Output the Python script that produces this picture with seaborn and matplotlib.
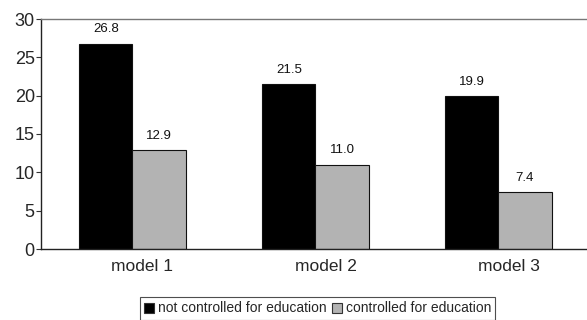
import matplotlib
matplotlib.use("Agg")
import matplotlib.pyplot as plt
import matplotlib.transforms as mtransforms
from matplotlib.patches import Patch
import seaborn as sns
import pandas as pd

models = ["model 1", "model 2", "model 3"]
not_controlled = [26.8, 21.5, 19.9]
controlled = [12.9, 11.0, 7.4]
series_names = ["not controlled for education", "controlled for education"]
bar_colors = ["#000000", "#b3b3b3"]
y_ticks = [0, 5, 10, 15, 20, 25, 30]

df = pd.DataFrame({
    "model": models * 2,
    "value": not_controlled + controlled,
    "group": [series_names[0]] * len(models) + [series_names[1]] * len(models),
})

sns.set_style("white")
plt.rcParams["font.family"] = ["Liberation Sans", "DejaVu Sans"]

fig = plt.figure(figsize=(5.87, 3.20), dpi=100)
ax = fig.add_axes([41 / 587, 71 / 320, 546 / 587, 230 / 320])

sns.barplot(data=df, x="model", y="value", hue="group", palette=bar_colors,
            edgecolor="#111111", linewidth=0.8, width=0.58, ax=ax,
            legend=False, saturation=1)

for cont in ax.containers:
    ax.bar_label(cont, fmt="%.1f", padding=6, fontsize=9.5, color="#111111")

ax.set_xlim(-0.5, 2.484)
ax.set_ylim(0, 30)
ax.set_yticks(y_ticks)
ax.set_xlabel("")
ax.set_ylabel("")

ax.tick_params(axis="y", which="both", left=True, length=3.5, width=0.8,
               color="#333333", labelsize=13, pad=1, direction="out")
ax.tick_params(axis="x", bottom=False, labelsize=12.5, pad=4)

offset = mtransforms.ScaledTranslation(10 / 100, 0, fig.dpi_scale_trans)
for lab in ax.get_xticklabels():
    lab.set_transform(lab.get_transform() + offset)

for side in ["left", "bottom"]:
    ax.spines[side].set_color("#222222")
    ax.spines[side].set_linewidth(1.0)
ax.spines["top"].set_color("#777777")
ax.spines["top"].set_linewidth(1.0)
ax.spines["right"].set_visible(False)

handles = [Patch(facecolor=c, edgecolor="#333333", linewidth=0.8) for c in bar_colors]
leg = fig.legend(handles, series_names, loc="center",
                 bbox_to_anchor=(317.5 / 587, 11.5 / 320), ncol=2,
                 fontsize=10, frameon=True, fancybox=False,
                 handlelength=0.7, handleheight=0.7, handletextpad=0.3,
                 columnspacing=0.4, borderpad=0.3, borderaxespad=0)
leg.get_frame().set_edgecolor("#222222")
leg.get_frame().set_linewidth(0.8)

fig.savefig("out.png", dpi=100)
